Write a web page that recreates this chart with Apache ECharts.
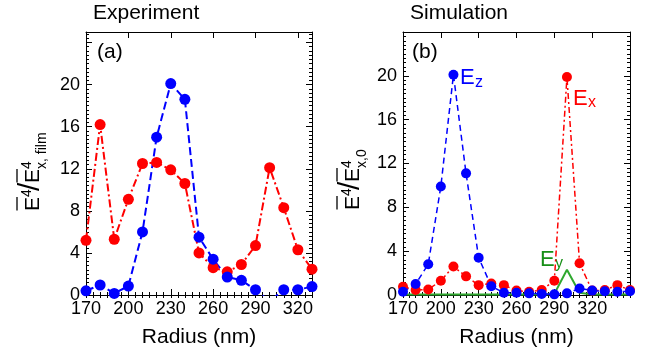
<!DOCTYPE html>
<html>
<head>
<meta charset="utf-8">
<script src="https://cdn.jsdelivr.net/npm/echarts@6/dist/echarts.min.js"></script>
<style>
html, body { margin: 0; padding: 0; background: #fff; }
#myChart { width: 650px; height: 357px; }
</style>
</head>
<body>
<div id="myChart"></div>
<script>
// (a) experiment
var expRadius = [170, 180, 190, 200, 210, 220, 230, 240, 250, 260, 270, 280, 290, 300, 310, 320, 330]
var expEx = [5.2, 16.2, 5.3, 9.1, 12.5, 12.6, 11.9, 10.6, 4.0, 2.6, 2.2, 2.9, 4.7, 12.1, 8.3, 4.3, 2.45]
var expEz = [0.4, 0.95, 0.15, 0.85, 6.0, 15.0, 20.1, 18.6, 5.5, 3.4, 1.7, 1.4, 0.5, -0.6, 0.5, 0.5, 0.8]

// (b) simulation
var simRadius = [170, 180, 190, 200, 210, 220, 230, 240, 250, 260, 270, 280, 290, 300, 310, 320, 330, 340, 350]
var simEx = [0.75, 0.45, 0.5, 1.3, 2.6, 1.7, 0.9, 1.05, 0.9, 0.4, 0.3, 0.45, 1.3, 19.9, 2.9, 0.4, 0.45, 0.9, 0.45]
var simEy = [0.05, 0.05, 0.05, 0.05, 0.05, 0.05, 0.05, 0.05, 0.05, 0.05, 0.05, 0.05, 0.1, 2.3, 0.2, 0.05, 0.05, 0.05, 0.05]
var simEz = [0.3, 1.0, 2.8, 9.9, 20.1, 11.1, 3.4, 0.8, 0.2, 0.2, 0.15, 0.1, 0.06, 0.15, 0.6, 0.4, 0.35, 0.3, 0.35]

var xTickLabels = [170, 200, 230, 260, 290, 320]
var yTickLabels = [0, 4, 8, 12, 16, 20]

var font = '"Liberation Sans", Arial, Helvetica, sans-serif'
var RED = '#ff0000'
var BLUE = '#0000ff'
var GREEN = '#2fa82f'

function pairs (xs, ys) {
	return xs.map(function (x, i) { return [x, ys[i]] })
}

// one side of the box: major ticks (+ labels) and a second copy for the minor ticks
function sideAxes (grid, pos, min, max, major, minor, labels, isX) {
	var a = {
		gridIndex: grid, type: 'value', position: pos, min: min, max: max, interval: major,
		splitLine: {show: false},
		axisLine: {show: true, onZero: false, lineStyle: {color: '#000', width: 1}},
		axisTick: {show: true, inside: true, length: 6, lineStyle: {color: '#000', width: 1}},
		axisLabel: {show: false}
	}
	if (labels) {
		a.axisLabel = {
			show: true, margin: isX ? 5 : 6, fontSize: 18, color: '#000', fontFamily: font,
			formatter: function (v) {
				var list = isX ? xTickLabels : yTickLabels
				return list.indexOf(Math.round(v)) >= 0 && Math.abs(v - Math.round(v)) < 1e-6 ? String(Math.round(v)) : ''
			}
		}
	}
	var b = {
		gridIndex: grid, type: 'value', position: pos, min: min, max: max, interval: minor,
		splitLine: {show: false},
		axisLine: {show: false},
		axisTick: {show: true, inside: true, length: 3, lineStyle: {color: '#000', width: 1}},
		axisLabel: {show: false}
	}
	return [a, b]
}

var xAxis = [].concat(
	sideAxes(0, 'bottom', 170, 330, 30, 5, true, true),
	sideAxes(0, 'top', 170, 330, 30, 5, false, true),
	sideAxes(1, 'bottom', 170, 350, 30, 5, true, true),
	sideAxes(1, 'top', 170, 350, 30, 5, false, true)
)
var yAxis = [].concat(
	sideAxes(0, 'left', 0, 25, 4, 0.4, true, false),
	sideAxes(0, 'right', 0, 25, 4, 0.4, false, false),
	sideAxes(1, 'left', 0, 24, 4, 0.4, true, false),
	sideAxes(1, 'right', 0, 24, 4, 0.4, false, false)
)
;[0, 4].forEach(function (i) {
	xAxis[i].name = 'Radius (nm)'
	xAxis[i].nameLocation = 'middle'
	xAxis[i].nameGap = 32
	xAxis[i].nameTextStyle = {fontSize: 21, color: '#000', fontFamily: font}
})

function lineSeries (xi, yi, xs, ys, color, dash, width, size) {
	return {
		type: 'line', xAxisIndex: xi, yAxisIndex: yi,
		data: pairs(xs, ys),
		symbol: 'circle', symbolSize: size, showSymbol: true,
		clip: true, animation: false,
		itemStyle: {color: color},
		lineStyle: {color: color, width: width, type: dash}
	}
}

var series = [
	lineSeries(0, 0, expRadius, expEx, RED, [8, 3, 2, 3], 2, 11),
	lineSeries(0, 0, expRadius, expEz, BLUE, [8, 4], 2, 11),
	{
		type: 'line', xAxisIndex: 4, yAxisIndex: 4, data: pairs(simRadius, simEy),
		symbol: 'none', clip: true, animation: false,
		lineStyle: {color: GREEN, width: 2}
	},
	lineSeries(4, 4, simRadius, simEx, RED, [6, 3, 2, 3], 1.5, 10),
	lineSeries(4, 4, simRadius, simEz, BLUE, [6, 4], 1.5, 10)
]

function txt (x, y, s, size, color) {
	return {
		type: 'text', x: x, y: y, silent: true,
		style: {
			text: s, fill: color || '#000', font: size + 'px ' + font,
			textAlign: 'left', align: 'left',
			textVerticalAlign: 'middle', verticalAlign: 'middle'
		}
	}
}

function ovl (x1, x2, y) {
	return {type: 'line', silent: true, shape: {x1: x1, y1: y, x2: x2, y2: y}, style: {stroke: '#000', lineWidth: 1.3}}
}

// rotated y title: E^4 / E^4_sub, overlined
function yTitle (x, y, sub) {
	return {
		type: 'group', x: x, y: y, rotation: Math.PI / 2,
		children: [
			txt(0, -7.5, 'E', 21),
			txt(14, -13.5, '4', 14),
			txt(20, -10, '/', 30),
			txt(28, -7.5, 'E', 21),
			txt(42, -13.5, '4', 14),
			txt(42, 1, sub, 14),
			ovl(0.5, 14, -24),
			ovl(28.5, 42, -24)
		]
	}
}

var graphic = [
	txt(93, 13, 'Experiment', 21),
	txt(410, 13, 'Simulation', 21),
	txt(97, 52, '(a)', 21),
	txt(412, 52, '(b)', 21),
	txt(460, 77.5, 'E', 22, BLUE),
	txt(475, 83, 'z', 16, BLUE),
	txt(573, 98.5, 'E', 22, RED),
	txt(588, 103, 'x', 16, RED),
	txt(540, 259.5, 'E', 22, '#178f17'),
	txt(555, 264, 'y', 16, '#178f17'),
	yTitle(41, 211, 'x, film'),
	yTitle(361, 210, 'x,0')
]

var option = {
	backgroundColor: '#fff',
	animation: false,
	grid: [
		{left: 86, top: 32, width: 226, height: 263},
		{left: 403, top: 32, width: 227, height: 263}
	],
	xAxis: xAxis,
	yAxis: yAxis,
	series: series,
	graphic: graphic
}

var myChart = echarts.init(document.getElementById('myChart'), null, {renderer: 'canvas'})
myChart.setOption(option)
</script>
</body>
</html>
